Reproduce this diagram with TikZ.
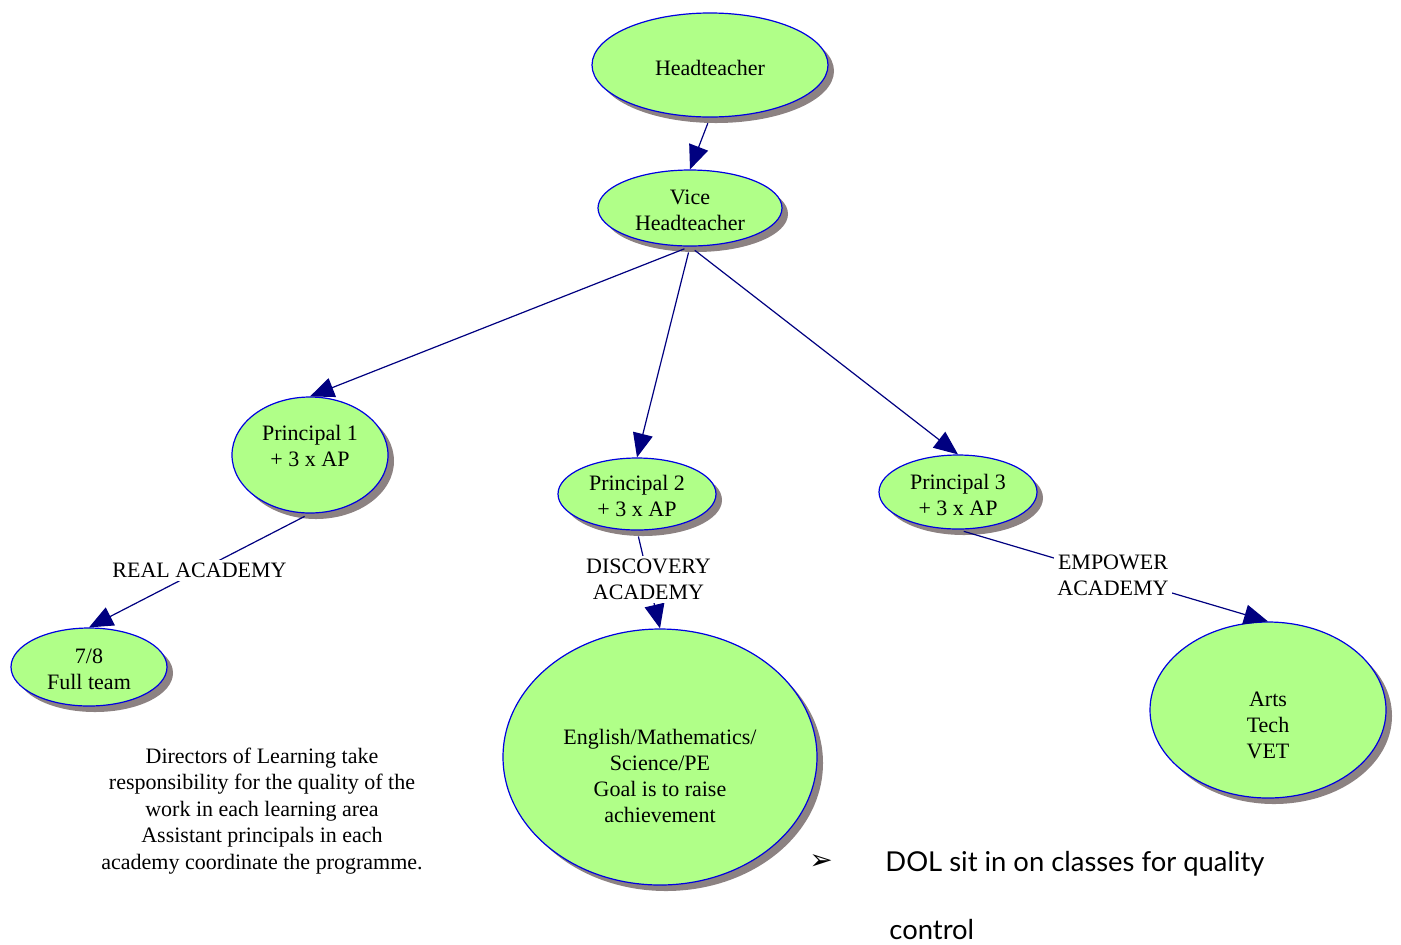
\documentclass[tikz,border=0pt]{standalone}
\usepackage{fontspec}
\setmainfont{Liberation Serif}
\newfontfamily\dolfont{Lato}
\newfontfamily\symfont{DejaVu Sans}
\usetikzlibrary{shapes.geometric,shadows,arrows.meta}
\definecolor{navyline}{RGB}{0,0,128}
\definecolor{rim}{RGB}{0,0,225}
\definecolor{leaf}{RGB}{176,255,136}
\definecolor{shade}{RGB}{140,130,130}
\newcommand{\lift}[1]{\rule{0pt}{#1}}
\newcommand{\sink}[1]{\rule[-#1]{0pt}{#1}}

\begin{document}
\begin{tikzpicture}[x=0.5pt,y=-0.5pt,
    every node/.style={font=\fontsize{11}{13}\selectfont},
    role/.style={ellipse,draw=rim,semithick,fill=leaf,inner sep=0pt,align=center,
      drop shadow={shadow xshift=3pt,shadow yshift=-3pt,opacity=1,fill=shade}},
    link/.style={draw=navyline,semithick,shorten <=3pt,
      -{Triangle[length=12pt,width=10pt]}},
    tag/.style={midway,fill=white,inner sep=1.5pt,align=center}]
  \useasboundingbox (0,0) rectangle (1401,944);

  % staff
  \node[role,minimum width=118pt,minimum height=52pt] (head) at (710,65) {\lift{10.5pt}Headteacher};
  \node[role,minimum width=92pt,minimum height=38pt] (vice) at (690,208) {\lift{10pt}Vice\\Headteacher};
  \node[role,minimum width=78pt,minimum height=58pt] (p1) at (310,455) {Principal 1\\+ 3 x AP\sink{9pt}};
  \node[role,minimum width=79pt,minimum height=36pt] (p2) at (637,494) {\lift{9.5pt}Principal 2\\+ 3 x AP};
  \node[role,minimum width=79pt,minimum height=37pt] (p3) at (958,492) {\lift{10.5pt}Principal 3\\+ 3 x AP};

  % academies
  \node[role,minimum width=78pt,minimum height=39pt] (team) at (89,667) {\lift{10pt}7/8\\Full team};
  \node[role,minimum width=157pt,minimum height=128pt] (core) at (660,757)
    {\lift{27pt}English/Mathematics/\\Science/PE\\Goal is to raise\\achievement};
  \node[role,minimum width=118pt,minimum height=88pt] (arts) at (1268,710) {\lift{23pt}Arts\\Tech\\VET};

  \draw[link] (head.south) -- (vice.north);
  \draw[link] (vice.south) -- (p1.north);
  \draw[link] (vice.south) -- (p2.north);
  \draw[link] (vice.south) -- (p3.north);
  \draw[link] (p1.south) -- node[tag] {REAL ACADEMY} (team.north);
  \draw[link] (p2.south) -- node[tag] {DISCOVERY\\ACADEMY} (core.north);
  \draw[link] (p3.south) -- node[tag] {EMPOWER\\ACADEMY} (arts.north);

  % notes
  \node[align=center,font=\fontsize{11}{13.3}\selectfont] (dirs) at (262,811)
    {Directors of Learning take\\responsibility for the quality of the\\work in each learning area\\Assistant principals in each\\academy coordinate the programme.};
  \node[font=\symfont\fontsize{14}{16}\selectfont] (tick) at (821,862) {➢};
  \node[anchor=west,font=\dolfont\fontsize{13.7}{16}\selectfont,inner sep=0pt] (dol) at (885,864) {DOL sit in on classes for quality};
  \node[anchor=west,font=\dolfont\fontsize{13.7}{16}\selectfont,inner sep=0pt] (ctrl) at (889,929) {control};
\end{tikzpicture}
\end{document}
